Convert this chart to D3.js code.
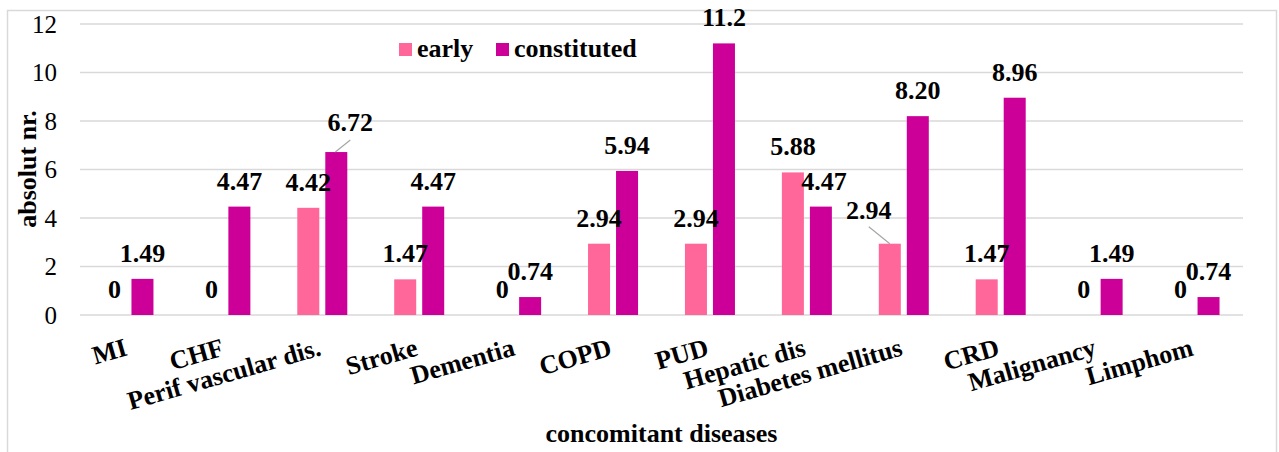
<!DOCTYPE html>
<html>
<head>
<meta charset="utf-8">
<script src="https://cdn.jsdelivr.net/npm/d3@7"></script>
<style>
  body { margin: 0; background: #fff; }
</style>
</head>
<body>
<svg id="chart" width="1279" height="452"></svg>
<script>
// categories and values (concomitant diseases)
const categories = ["MI", "CHF", "Perif vascular dis.", "Stroke", "Dementia", "COPD",
                    "PUD", "Hepatic dis", "Diabetes mellitus", "CRD", "Malignancy", "Limphom"];
const early = [0, 0, 4.42, 1.47, 0, 2.94, 2.94, 5.88, 2.94, 1.47, 0, 0];
const constituted = [1.49, 4.47, 6.72, 4.47, 0.74, 5.94, 11.2, 4.47, 8.20, 8.96, 1.49, 0.74];
const earlyLabels = ["0", "0", "4.42", "1.47", "0", "2.94", "2.94", "5.88", "2.94", "1.47", "0", "0"];
const constLabels = ["1.49", "4.47", "6.72", "4.47", "0.74", "5.94", "11.2", "4.47", "8.20", "8.96", "1.49", "0.74"];
const yTicks = [0, 2, 4, 6, 8, 10, 12];
const seriesNames = ["early", "constituted"];
const colors = ["#ff6699", "#cc0099"];
const fontFam = "'Liberation Serif', 'DejaVu Serif', serif";

const svg = d3.select("#chart").attr("font-family", fontFam).style("font-family", fontFam);
const pl = 80, pr = 1243, pt = 24, pb = 315; // plot area

// outer frame
svg.append("rect").attr("x", 7.5).attr("y", 10.5).attr("width", 1269).attr("height", 460)
    .attr("style", "fill:none; stroke:#d9d9d9; stroke-width:1.5");

const x = d3.scaleBand().domain(categories).range([pl, pr]);
const y = d3.scaleLinear().domain([0, 12]).range([pb, pt]);
const bw = 22, gap = 6; // bar width, gap between the pair

// gridlines
svg.append("g").selectAll("line").data(yTicks).join("line")
    .attr("x1", pl).attr("x2", pr).attr("y1", d => y(d)).attr("y2", d => y(d))
    .attr("style", "stroke:#d9d9d9; stroke-width:1.5");

// y tick labels
svg.append("g").selectAll("text").data(yTicks).join("text")
    .attr("x", 57).attr("y", d => y(d)).attr("dy", "0.35em")
    .attr("text-anchor", "end").attr("font-size", 25)
    .text(d => d);

// y axis title
svg.append("text").attr("transform", "translate(36,169) rotate(-90)")
    .attr("text-anchor", "middle").attr("font-size", 26).attr("font-weight", "bold")
    .text("absolut nr.");

// bars
const xe = c => x(c) + x.bandwidth() / 2 - gap / 2 - bw;
const xc = c => x(c) + x.bandwidth() / 2 + gap / 2;
svg.append("g").selectAll("rect").data(categories).join("rect")
    .attr("x", xe).attr("width", bw)
    .attr("y", (c, i) => y(early[i])).attr("height", (c, i) => pb - y(early[i]))
    .attr("fill", colors[0]);
svg.append("g").selectAll("rect").data(categories).join("rect")
    .attr("x", xc).attr("width", bw)
    .attr("y", (c, i) => y(constituted[i])).attr("height", (c, i) => pb - y(constituted[i]))
    .attr("fill", colors[1]);

// data labels (a couple moved off the bar, with leader lines)
const moved = { "c2": [14, -4], "e8": [-21, -8], "c7": [3, 0] };
function addLabels(vals, labels, xf, key) {
    svg.append("g").selectAll("text").data(categories).join("text")
        .attr("x", (c, i) => xf(c) + bw / 2 + (moved[key + i] ? moved[key + i][0] : 0))
        .attr("y", (c, i) => y(vals[i]) - 17 + (moved[key + i] ? moved[key + i][1] : 0))
        .attr("text-anchor", "middle").attr("font-size", 26).attr("font-weight", "bold")
        .text((c, i) => labels[i]);
}
addLabels(early, earlyLabels, xe, "e");
addLabels(constituted, constLabels, xc, "c");
// leader lines
const c2 = categories[2], c8 = categories[8];
svg.append("line").attr("x1", xc(c2) + 10).attr("y1", y(constituted[2]))
    .attr("x2", xc(c2) + 25).attr("y2", y(constituted[2]) - 12)
    .attr("style", "stroke:#a6a6a6; stroke-width:1.2");
svg.append("line").attr("x1", xe(c8) + 11).attr("y1", y(early[8]))
    .attr("x2", xe(c8) - 10).attr("y2", y(early[8]) - 17)
    .attr("style", "stroke:#a6a6a6; stroke-width:1.2");

// x labels, rotated
svg.append("g").selectAll("text").data(categories).join("text")
    .attr("transform", c => "translate(" + (x(c) + x.bandwidth() / 2) + ",355) rotate(-16)")
    .attr("text-anchor", "end").attr("font-size", 26).attr("font-weight", "bold")
    .text(c => c);

// x axis title
svg.append("text").attr("x", (pl + pr) / 2).attr("y", 442)
    .attr("text-anchor", "middle").attr("font-size", 26).attr("font-weight", "bold")
    .text("concomitant diseases");

// legend
const lg = svg.append("g").selectAll("g").data(seriesNames).join("g")
    .attr("transform", (d, i) => "translate(" + [399, 496][i] + ",43)");
lg.append("rect").attr("width", 13).attr("height", 13).attr("fill", (d, i) => colors[i]);
lg.append("text").attr("x", 18).attr("y", 14)
    .attr("font-size", 26).attr("font-weight", "bold").text(d => d);
</script>
</body>
</html>
